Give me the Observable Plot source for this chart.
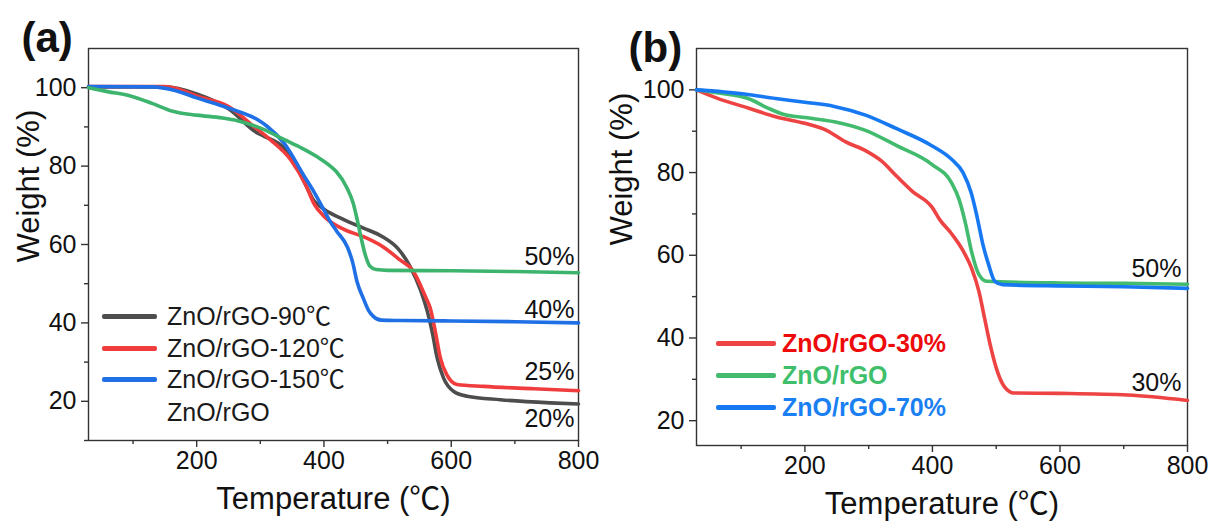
<!DOCTYPE html>
<html>
<head>
<meta charset="utf-8">
<script src="https://cdn.jsdelivr.net/npm/d3@7"></script>
<script src="https://cdn.jsdelivr.net/npm/@observablehq/plot@0.6"></script>
<style>
  html, body { margin: 0; padding: 0; background: #fff; }
  #wrap { position: relative; width: 1212px; height: 531px; overflow: hidden; background: #fff; font-family: "Liberation Sans", Arial, "Noto Sans CJK SC", sans-serif; }
  .panel { position: absolute; top: 0; }
  .legend { position: absolute; font-size: 25px; line-height: 25px; }
  .row { position: absolute; display: flex; align-items: center; white-space: nowrap; height: 25px; }
  .swatch { position: absolute; height: 4px; border-radius: 2px; }
</style>
</head>
<body>
<div id="wrap"></div>
<script>
// ---------- Panel (a) data ----------
const tempA90 = [30, 150, 200, 250, 296, 306, 337, 360, 375, 384, 392, 400, 432, 462, 492, 516, 535, 552, 562, 570, 578, 588, 604, 625, 677, 756, 800];
const wA90    = [100.2, 100.2, 98.4, 94.6, 88.4, 87.6, 84.6, 79, 74, 71.2, 70, 69, 66.3, 64.2, 62, 59, 54.5, 48.3, 43.2, 37.8, 31, 25.9, 22.5, 21.3, 20.4, 19.6, 19.3];

const tempA120 = [30, 150, 168, 200, 250, 290, 316, 348, 372, 384, 400, 432, 462, 492, 520, 540, 552, 560, 567, 575, 583, 593, 609, 651, 730, 800];
const wA120    = [100.3, 100.3, 99.8, 97.9, 95.2, 90.1, 86.7, 81.6, 75.0, 70.5, 67.2, 63.8, 62.0, 59.5, 56.0, 53.3, 49.5, 46.5, 43.8, 37.8, 31, 26.8, 24.3, 23.8, 23.2, 22.7];

const tempA150 = [30, 130, 166, 200, 250, 296, 311, 337, 369, 384, 400, 410, 420, 437, 445, 452, 462, 470, 478, 490, 520, 600, 700, 800];
const wA150    = [100.3, 100.2, 99.3, 97.4, 94.8, 91.8, 90.1, 85.9, 77.4, 73.5, 68.8, 65.8, 63.4, 59.3, 55.5, 50.5, 46.2, 43.2, 41.6, 40.7, 40.6, 40.5, 40.3, 40.0];

const tempAGO = [30, 60, 96, 130, 162, 200, 240, 264, 306, 337, 365, 390, 410, 420, 436, 446, 452, 458, 465, 472, 482, 500, 600, 700, 800];
const wAGO    = [100, 99, 97.9, 96, 94, 93, 92.3, 91.6, 89.3, 86.8, 84.6, 82.3, 80, 78.5, 74.5, 70.5, 66.5, 62, 57.3, 54.5, 53.6, 53.4, 53.3, 53.1, 52.8];

// ---------- Panel (b) data ----------
const tempB30 = [30, 62, 111, 154, 200, 234, 264, 295, 320, 344, 369, 399, 412, 430, 448, 461, 473, 482, 491, 501, 513, 528, 600, 706, 800];
const wB30    = [100, 98, 95.6, 93.5, 91.9, 90.2, 87.4, 85.3, 82.8, 79.1, 75.4, 71.7, 68.5, 65.2, 61.1, 57, 51.2, 44.6, 38.1, 32.3, 28.2, 26.7, 26.6, 26.2, 24.9];

const tempBGO = [30, 62, 111, 142, 166, 200, 246, 295, 344, 399, 430, 442, 452, 461, 473, 485, 600, 700, 800];
const wBGO    = [100, 99.3, 97.9, 95.6, 94.1, 93.3, 92.3, 90.2, 86.5, 82, 77.5, 73.4, 67.6, 61.1, 55.3, 53.7, 53.3, 53.2, 53];

const tempB70 = [30, 105, 154, 200, 246, 295, 344, 399, 430, 448, 461, 470, 479, 488, 498, 510, 600, 700, 800];
const wB70    = [100, 99, 97.9, 97, 96, 93.9, 90.6, 86.5, 83.2, 80, 75, 69.3, 62.7, 57.8, 53.7, 52.9, 52.6, 52.4, 52];

// ---------- Labels / ticks ----------
const xMajorTicks = [200, 400, 600, 800];
const xMinorTicks = [100, 300, 500, 700];
const yMajorTicks = [20, 40, 60, 80, 100];
const yMinorTicksA = [10, 30, 50, 70, 90];
const yMinorTicksB = [30, 50, 70, 90];

const pctLabelsA = ["50%", "40%", "25%", "20%"];
const pctLabelYA = [56.9, 43.4, 27.6, 15.4];
const pctLabelsB = ["50%", "30%"];
const pctLabelYB = [56.8, 29.2];

const seriesA = [
  {name: "ZnO/rGO-90℃",  t: tempA90,  w: wA90,  color: "#4d4d4d"},
  {name: "ZnO/rGO-120℃", t: tempA120, w: wA120, color: "#f03c3c"},
  {name: "ZnO/rGO-150℃", t: tempA150, w: wA150, color: "#1f6fe5"},
  {name: "ZnO/rGO",      t: tempAGO,  w: wAGO,  color: "#3cb46e"}
];
const seriesB = [
  {name: "ZnO/rGO-30%", t: tempB30, w: wB30, color: "#ee4343", text: "#ee0a0a"},
  {name: "ZnO/rGO",     t: tempBGO, w: wBGO, color: "#43bb6e", text: "#3fbf6c"},
  {name: "ZnO/rGO-70%", t: tempB70, w: wB70, color: "#1679f2", text: "#1a7ff2"}
];

const FONT = '"Liberation Sans", Arial, "Noto Sans CJK SC", sans-serif';
const AX = "#333";

function toRows(s) { return s.t.map((t, i) => ({T: t, W: s.w[i], name: s.name})); }

function panel({series, yDomain, yMinor, pctLabels, pctY, pctDx, left, mL, mR, mB, tag, tagDx, tagDy, ylabDx, ylabDy, xlabDy}) {
  const width = 606, height = 531;
  const marks = [
    Plot.frame({stroke: AX, strokeWidth: 1.4}),
    Plot.axisX({ticks: xMajorTicks, tickSize: 7, tickPadding: 4, label: null, stroke: AX, strokeWidth: 1.4, fill: "#111"}),
    Plot.axisX({ticks: xMinorTicks, tickSize: 4, tickFormat: () => "", label: null, stroke: AX, strokeWidth: 1.4}),
    Plot.axisY({ticks: yMajorTicks, tickSize: 7, tickPadding: 5, label: null, stroke: AX, strokeWidth: 1.4, fill: "#111"}),
    Plot.axisY({ticks: yMinor, tickSize: 4, tickFormat: () => "", label: null, stroke: AX, strokeWidth: 1.4})
  ];
  for (const s of series) {
    marks.push(Plot.line(toRows(s), {x: "T", y: "W", stroke: s.color, strokeWidth: 3.6, curve: "monotone-x"}));
  }
  marks.push(Plot.text(pctLabels, {y: pctY, frameAnchor: "right", textAnchor: "end", dx: pctDx, fontSize: 25, fill: "#111"}));
  marks.push(Plot.text([tag], {frameAnchor: "top-left", textAnchor: "start", dx: tagDx, dy: tagDy, fontSize: 42, fontWeight: "bold", fill: "#111"}));
  marks.push(Plot.text(["Weight (%)"], {frameAnchor: "left", rotate: -90, dx: ylabDx, dy: ylabDy, fontSize: 31, fill: "#111"}));
  marks.push(Plot.text(["Temperature (℃)"], {frameAnchor: "bottom", dy: xlabDy, fontSize: 31, fill: "#111"}));
  const p = Plot.plot({
    width, height,
    marginLeft: mL, marginRight: mR, marginTop: 48, marginBottom: mB,
    x: {domain: [30, 800]},
    y: {domain: yDomain},
    style: {fontFamily: FONT, fontSize: "25px", color: "#111", background: "transparent", overflow: "visible"},
    marks
  });
  p.classList.add("panel");
  p.style.left = left + "px";
  return p;
}

const wrap = document.getElementById("wrap");

wrap.appendChild(panel({
  series: [seriesA[0], seriesA[1], seriesA[2], seriesA[3]],
  yDomain: [10, 110], yMinor: yMinorTicksA,
  pctLabels: pctLabelsA, pctY: pctLabelYA, pctDx: -4,
  left: 0, mL: 88, mR: 28, mB: 91,
  tag: "(a)", tagDx: -67, tagDy: -26,
  ylabDx: -59.5, ylabDy: 18, xlabDy: 68
}));

wrap.appendChild(panel({
  series: seriesB,
  yDomain: [14, 110], yMinor: yMinorTicksB,
  pctLabels: pctLabelsB, pctY: pctLabelYB, pctDx: -6,
  left: 606, mL: 90, mR: 25, mB: 86,
  tag: "(b)", tagDx: -68, tagDy: -16,
  ylabDx: -74.5, ylabDy: -1.5, xlabDy: 68
}));

// ---------- Legends (HTML overlay) ----------
function legend(entries, x0Line, x1Line, xText, ys, bold) {
  const box = document.createElement("div");
  box.className = "legend";
  box.style.left = "0px"; box.style.top = "0px";
  entries.forEach((e, i) => {
    const y = ys[i];
    if (e.line) {
      const sw = document.createElement("div");
      sw.className = "swatch";
      sw.style.left = x0Line + "px";
      sw.style.width = (x1Line - x0Line) + "px";
      sw.style.top = (y - 2.5) + "px";
      sw.style.height = "5px";
      sw.style.background = e.line;
      box.appendChild(sw);
    }
    const r = document.createElement("div");
    r.className = "row";
    r.style.left = xText + "px";
    r.style.top = (y - 12.5) + "px";
    r.style.color = e.text;
    if (bold) r.style.fontWeight = "bold";
    r.textContent = e.name;
    box.appendChild(r);
  });
  wrap.appendChild(box);
}

legend([
  {name: seriesA[0].name, line: seriesA[0].color, text: "#1a1a1a"},
  {name: seriesA[1].name, line: seriesA[1].color, text: "#1a1a1a"},
  {name: seriesA[2].name, line: seriesA[2].color, text: "#1a1a1a"},
  {name: seriesA[3].name, line: null, text: "#1a1a1a"}
], 102, 157, 167, [316, 348, 379, 412], false);

legend(seriesB.map(s => ({name: s.name, line: s.color, text: s.text})),
  716, 776, 782, [343, 375.5, 407.5], true);
</script>
</body>
</html>
